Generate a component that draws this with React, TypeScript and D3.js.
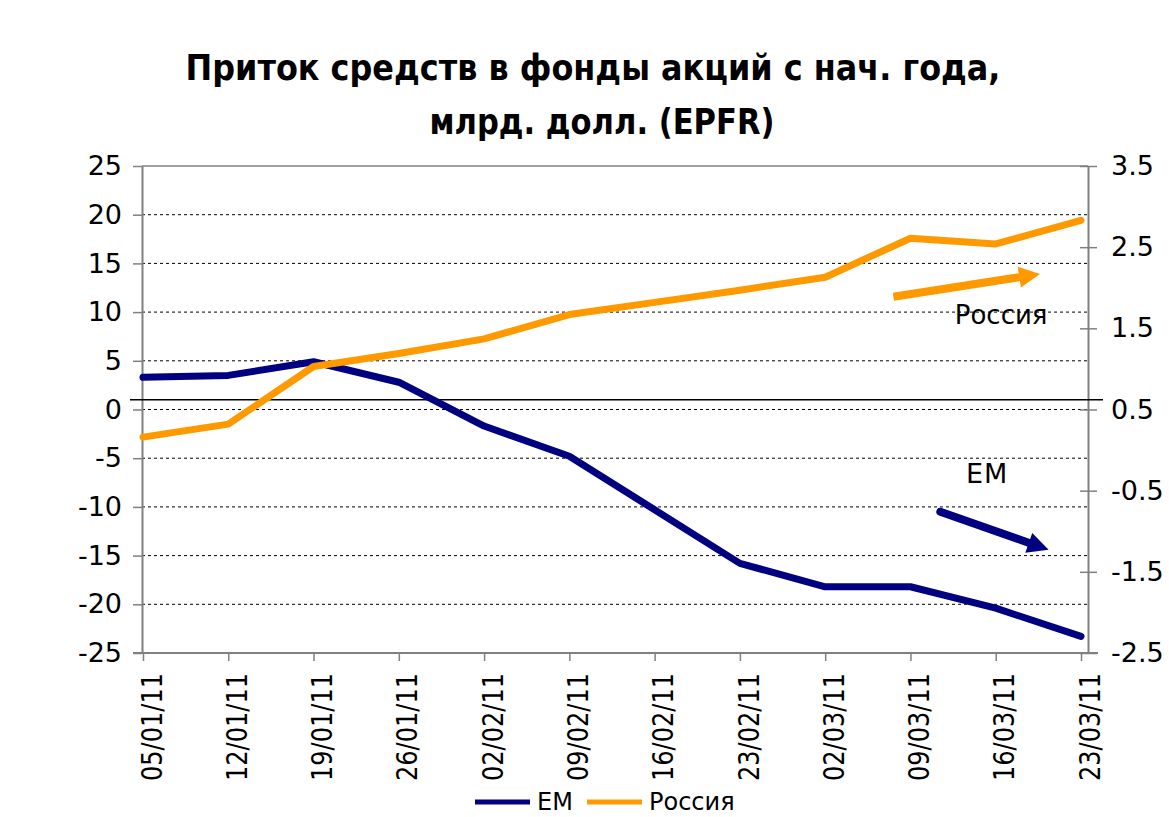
import * as d3 from 'd3';
import { useEffect, useRef } from 'react';

const dates = ['05/01/11', '12/01/11', '19/01/11', '26/01/11', '02/02/11', '09/02/11', '16/02/11', '23/02/11', '02/03/11', '09/03/11', '16/03/11', '23/03/11'];
// EM, left axis, bn USD
const emValues = [3.3, 3.5, 4.9, 2.8, -1.7, -4.8, -10.3, -15.8, -18.2, -18.2, -20.4, -23.3];
// Russia, right axis, bn USD
const russiaValues = [0.16, 0.32, 1.03, 1.19, 1.37, 1.67, 1.82, 1.97, 2.13, 2.61, 2.54, 2.83];

const leftTicks = [25, 20, 15, 10, 5, 0, -5, -10, -15, -20, -25];
const rightTicks = [3.5, 2.5, 1.5, 0.5, -0.5, -1.5, -2.5];
const gridValues = [20, 15, 10, 5, 0, -5, -10, -15, -20];
const crossLine = 1; // horizontal axis crossing, left-axis units

const titleLines = ['Приток средств в фонды акций с нач. года,', 'млрд. долл. (EPFR)'];

// annotation arrows: [date index, value] pairs
const russiaArrow = { from: [8.8, 1.89], to: [10.52, 2.17] };
const emArrow = { from: [9.35, -10.5], to: [10.62, -14.4] };
const russiaLabel = { at: [9.52, 1.55], text: 'Россия' };
const emLabel = { at: [9.65, -7.5], text: 'EM' };

const EM_COLOR = '#000080';
const RU_COLOR = '#FF9900';
const FONT = "'DejaVu Sans', Verdana, sans-serif";

const plot = { left: 142, right: 1088, top: 166, bottom: 653 };

const drawArrow = (g, x1, y1, x2, y2, color, cap) => {
  const shaft = 8;
  const headLen = 21;
  const headW = 21;
  const dx = x2 - x1;
  const dy = y2 - y1;
  const len = Math.hypot(dx, dy);
  const ux = dx / len;
  const uy = dy / len;
  const px = -uy;
  const py = ux;
  const bx = x2 - ux * headLen;
  const by = y2 - uy * headLen;
  g.append('line')
    .attr('x1', x1)
    .attr('y1', y1)
    .attr('x2', bx + ux * 2)
    .attr('y2', by + uy * 2)
    .attr('stroke', color)
    .attr('stroke-width', shaft)
    .attr('stroke-linecap', cap);
  g.append('path')
    .attr('d', `M${x2},${y2}L${bx + (px * headW) / 2},${by + (py * headW) / 2}L${bx - (px * headW) / 2},${by - (py * headW) / 2}Z`)
    .attr('fill', color);
};

const FlowsChart = () => {
  const svgRef = useRef(null);

  useEffect(() => {
    if (!svgRef.current) return;
    const svg = d3.select(svgRef.current);
    svg.selectAll('*').remove();

    // ── Scales ──────────────────────────────────────────────
    const x = d3.scalePoint().domain(dates).range([143, 1081]);
    const xi = d3.scaleLinear().domain([0, dates.length - 1]).range(x.range());
    const yL = d3.scaleLinear().domain([-25, 25]).range([plot.bottom, plot.top]);
    const yR = d3.scaleLinear().domain([-2.5, 3.5]).range([plot.bottom, plot.top]);

    // ── Title ───────────────────────────────────────────────
    const title = svg.append('g').attr('font-family', FONT).attr('font-weight', 'bold').attr('font-size', 35).attr('fill', '#000');
    title.append('text').attr('x', 593).attr('y', 80).attr('text-anchor', 'middle').attr('textLength', 815).attr('lengthAdjust', 'spacingAndGlyphs').text(titleLines[0]);
    title.append('text').attr('x', 602).attr('y', 134).attr('text-anchor', 'middle').attr('textLength', 345).attr('lengthAdjust', 'spacingAndGlyphs').text(titleLines[1]);

    // ── Grid ────────────────────────────────────────────────
    svg
      .append('g')
      .selectAll('line')
      .data(gridValues)
      .join('line')
      .attr('x1', plot.left)
      .attr('x2', plot.right)
      .attr('y1', d => yL(d))
      .attr('y2', d => yL(d))
      .attr('stroke', '#000')
      .attr('stroke-width', 1)
      .attr('stroke-dasharray', '3 3');

    svg.append('line').attr('x1', plot.left).attr('x2', plot.right).attr('y1', plot.top).attr('y2', plot.top).attr('stroke', '#808080').attr('stroke-width', 1.5);

    // ── Axes ────────────────────────────────────────────────
    const styleAxis = ax => {
      ax.attr('font-family', FONT).attr('font-size', 27);
      ax.select('.domain').attr('stroke', '#808080').attr('stroke-width', 2);
      ax.selectAll('.tick line').attr('stroke', '#808080').attr('stroke-width', 1.5);
      ax.selectAll('.tick text').attr('fill', '#000');
    };

    svg
      .append('g')
      .attr('transform', `translate(${plot.left},0)`)
      .call(d3.axisLeft(yL).tickValues(leftTicks).tickSize(9).tickSizeOuter(0).tickPadding(11).tickFormat(d => String(d)))
      .call(styleAxis);

    svg
      .append('g')
      .attr('transform', `translate(${plot.right},0)`)
      .call(d3.axisRight(yR).tickValues(rightTicks).tickSize(9).tickSizeOuter(0).tickPadding(14).tickFormat(d => d.toFixed(1)))
      .call(styleAxis)
      .call(ax => ax.selectAll('.tick line').attr('x1', -8));

    svg
      .append('g')
      .attr('transform', `translate(0,${plot.bottom})`)
      .call(d3.axisBottom(x).tickSize(8).tickSizeOuter(0))
      .call(styleAxis)
      .call(ax => ax.select('.domain').attr('d', `M${plot.left - 9},0H${plot.right + 10}`))
      .call(ax =>
        ax
          .selectAll('.tick text')
          .attr('font-size', 28)
          .attr('transform', 'rotate(-90)')
          .attr('text-anchor', 'end')
          .attr('x', -20)
          .attr('y', 8)
          .attr('dy', '0.36em')
          .attr('textLength', 108)
          .attr('lengthAdjust', 'spacingAndGlyphs')
      );

    // axis crossing line
    svg.append('line').attr('x1', 130).attr('x2', 1103).attr('y1', yL(crossLine)).attr('y2', yL(crossLine)).attr('stroke', '#000').attr('stroke-width', 1.5);

    // ── Lines ───────────────────────────────────────────────
    const emLine = d3
      .line()
      .x((d, i) => x(dates[i]))
      .y(d => yL(d));
    const ruLine = d3
      .line()
      .x((d, i) => x(dates[i]))
      .y(d => yR(d));

    svg.append('path').datum(emValues).attr('d', emLine).attr('fill', 'none').attr('stroke', EM_COLOR).attr('stroke-width', 7).attr('stroke-linejoin', 'round').attr('stroke-linecap', 'round');
    svg.append('path').datum(russiaValues).attr('d', ruLine).attr('fill', 'none').attr('stroke', RU_COLOR).attr('stroke-width', 7).attr('stroke-linejoin', 'round').attr('stroke-linecap', 'round');

    // ── Annotations ─────────────────────────────────────────
    const ann = svg.append('g');
    drawArrow(ann, xi(russiaArrow.from[0]), yR(russiaArrow.from[1]), xi(russiaArrow.to[0]), yR(russiaArrow.to[1]), RU_COLOR, 'butt');
    drawArrow(ann, xi(emArrow.from[0]), yL(emArrow.from[1]), xi(emArrow.to[0]), yL(emArrow.to[1]), EM_COLOR, 'round');

    ann.append('text').attr('x', xi(russiaLabel.at[0])).attr('y', yR(russiaLabel.at[1])).attr('font-family', FONT).attr('font-size', 26).text(russiaLabel.text);
    ann.append('text').attr('x', xi(emLabel.at[0])).attr('y', yL(emLabel.at[1])).attr('font-family', FONT).attr('font-size', 27).attr('letter-spacing', 1).text(emLabel.text);

    // ── Legend ──────────────────────────────────────────────
    const legend = svg.append('g').attr('font-family', FONT).attr('font-size', 24);
    const items = [
      { label: 'EM', color: EM_COLOR, x: 475 },
      { label: 'Россия', color: RU_COLOR, x: 587 }
    ];
    items.forEach(it => {
      legend.append('line').attr('x1', it.x).attr('x2', it.x + 55).attr('y1', 802).attr('y2', 802).attr('stroke', it.color).attr('stroke-width', 5);
      legend.append('text').attr('x', it.x + 62).attr('y', 810).text(it.label);
    });
  }, []);

  return <svg ref={svgRef} width={1169} height={817} style={{ position: 'absolute', left: 0, top: 0, background: '#fff' }} />;
};

export default function App() {
  return <FlowsChart />;
}
